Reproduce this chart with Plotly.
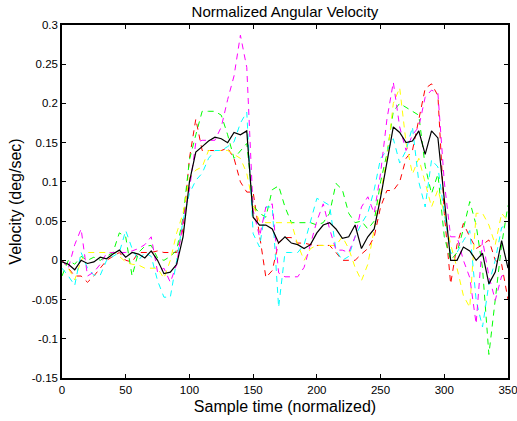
import plotly.graph_objects as go

# sample index (every 5 samples)
t = list(range(0, 355, 5))

mean_vel = [-0.002, -0.005, -0.012, 0.0, -0.004, -0.002, 0.004, 0.002, 0.008, 0.013,
            0.004, 0.01, 0.008, 0.003, 0.012, 0.0, -0.017, -0.015, -0.005, 0.03,
            0.1, 0.138, 0.145, 0.152, 0.157, 0.155, 0.15, 0.163, 0.16, 0.165,
            0.055, 0.045, 0.045, 0.04, 0.022, 0.03, 0.022, 0.02, 0.015, 0.02,
            0.035, 0.045, 0.048, 0.04, 0.028, 0.03, 0.045, 0.015, 0.03, 0.04,
            0.08, 0.125, 0.17, 0.163, 0.15, 0.152, 0.165, 0.135, 0.165, 0.156,
            0.08, 0.0, 0.0, 0.017, 0.012, 0.0, 0.009, -0.03, -0.015, 0.025, -0.01]

red_vel = [0.0, -0.01, -0.02, -0.02, -0.028, -0.02, -0.01, 0.0, 0.005, 0.01,
           0.0, -0.002, 0.01, 0.01, 0.01, 0.012, 0.01, 0.01, 0.01, 0.04,
           0.13, 0.18, 0.14, 0.14, 0.14, 0.14, 0.143, 0.13, 0.1, 0.087,
           0.087, 0.03, -0.022, -0.013, 0.023, 0.029, 0.029, 0.022, 0.022, 0.02,
           0.019, 0.019, 0.019, 0.01, 0.0, 0.0, 0.0, 0.008, 0.015, 0.03,
           0.068, 0.089, 0.089, 0.1, 0.13, 0.14, 0.18, 0.219, 0.225, 0.21,
           0.06, -0.03, 0.02, 0.047, 0.03, 0.015, 0.02, 0.026, 0.0, -0.005, -0.05]

green_vel = [-0.02, 0.0, -0.005, 0.005, 0.0, 0.004, 0.0, 0.005, 0.01, 0.035,
             0.03, -0.02, 0.01, 0.018, 0.019, 0.003, 0.0, 0.005, 0.013, 0.055,
             0.128, 0.16, 0.19, 0.19, 0.19, 0.185, 0.16, 0.13, 0.14, 0.149,
             0.07, 0.06, 0.055, 0.09, 0.095, 0.068, 0.048, 0.048, 0.048, 0.048,
             0.045, 0.048, 0.06, 0.098, 0.09, 0.06, 0.048, 0.05, 0.04, 0.05,
             0.1, 0.136, 0.19, 0.2, 0.195, 0.19, 0.185, 0.12, 0.085, 0.11,
             0.03, 0.0, 0.01, 0.04, 0.075, 0.045, -0.01, -0.12, -0.05, 0.02, 0.07]

yellow_vel = [0.0, -0.01, -0.025, 0.0, 0.01, 0.01, 0.01, 0.01, 0.01, 0.005,
              -0.002, -0.005, -0.006, -0.01, -0.01, -0.01, -0.023, 0.0, 0.035, 0.06,
              0.105, 0.115, 0.119, 0.14, 0.14, 0.14, 0.14, 0.135, 0.13, 0.111,
              0.07, 0.05, 0.048, 0.048, 0.048, 0.048, 0.048, 0.02, 0.0, 0.015,
              0.019, 0.019, 0.019, 0.019, 0.03, 0.015, -0.009, -0.026, -0.005, 0.04,
              0.08, 0.13, 0.2, 0.22, 0.15, 0.11, 0.13, 0.1, 0.068, 0.09,
              0.06, 0.02, -0.01, -0.045, -0.06, 0.06, 0.06, 0.045, 0.02, 0.06, 0.05]

cyan_vel = [-0.01, -0.02, -0.032, 0.01, -0.01, -0.019, -0.019, 0.0, 0.005, 0.01,
            0.038, 0.015, 0.0, 0.01, 0.005, -0.026, -0.047, -0.047, 0.0, 0.051,
            0.085, 0.102, 0.111, 0.13, 0.14, 0.14, 0.145, 0.151, 0.175, 0.189,
            0.034, 0.017, 0.068, 0.068, -0.06, 0.01, 0.01, 0.01, 0.02, 0.05,
            0.079, 0.075, 0.07, 0.013, 0.0, 0.005, 0.03, 0.047, 0.06, 0.09,
            0.13, 0.14, 0.155, 0.124, 0.14, 0.17, 0.1, 0.068, 0.128, 0.119,
            0.06, 0.009, 0.01, 0.025, 0.038, -0.051, -0.085, -0.03, 0.0, 0.042, 0.045]

magenta_vel = [0.0, -0.01, 0.02, 0.04, -0.02, -0.015, -0.005, 0.009, 0.01, 0.01,
               0.01, 0.012, 0.015, 0.02, 0.03, -0.015, -0.01, -0.028, -0.005, 0.05,
               0.09, 0.15, 0.153, 0.153, 0.153, 0.17, 0.205, 0.235, 0.287, 0.246,
               0.064, 0.03, 0.068, 0.072, -0.016, -0.021, -0.021, -0.021, -0.009, 0.02,
               0.05, 0.072, 0.04, 0.013, 0.013, 0.01, 0.03, 0.068, 0.081, 0.06,
               0.111, 0.18, 0.227, 0.17, 0.14, 0.16, 0.17, 0.208, 0.217, 0.213,
               0.1, 0.03, 0.03, 0.0, -0.022, -0.081, 0.026, -0.02, -0.051, -0.02, -0.017]

x_ticks = [0, 50, 100, 150, 200, 250, 300, 350]
y_ticks = [-0.15, -0.1, -0.05, 0, 0.05, 0.1, 0.15, 0.2, 0.25, 0.3]
y_labels = ['-0.15', '-0.1', '-0.05', '0', '0.05', '0.1', '0.15', '0.2', '0.25', '0.3']

font = 'Liberation Sans, Arial, sans-serif'

dashed = [
    (red_vel, '#FF0000'),
    (green_vel, '#00FF00'),
    (yellow_vel, '#FFFF00'),
    (cyan_vel, '#00FFFF'),
    (magenta_vel, '#FF00FF'),
]

fig = go.Figure()
for vals, col in dashed:
    fig.add_trace(go.Scatter(x=t, y=vals, mode='lines',
                             line=dict(color=col, width=1, dash='6px,5px'),
                             showlegend=False))

fig.add_trace(go.Scatter(x=t, y=mean_vel, mode='lines',
                         line=dict(color='black', width=1.2),
                         showlegend=False))

axis_style = dict(showline=True, linecolor='black', linewidth=1.5, mirror='ticks',
                  ticks='inside', ticklen=4, tickcolor='black', showgrid=False,
                  zeroline=False, automargin=False, ticklabeloverflow='allow',
                  tickfont=dict(size=11.5, color='black', family=font))

fig.update_layout(
    width=517, height=421,
    margin=dict(l=62, r=9, t=25, b=43),
    paper_bgcolor='white', plot_bgcolor='white',
    title=dict(text='Normalized Angular Velocity', x=0.5, xref='paper',
               xanchor='center', y=1 - 12 / 421, yanchor='middle',
               font=dict(size=15, color='black', family=font)),
    xaxis=dict(range=[0, 350], tickvals=x_ticks,
               title=dict(text='Sample time (normalized)', standoff=6,
                          font=dict(size=16, color='black', family=font)),
               **axis_style),
    yaxis=dict(range=[-0.15, 0.3], tickvals=y_ticks, ticktext=y_labels,
               title=dict(text='Velocity (deg/sec)', standoff=6,
                          font=dict(size=16, color='black', family=font)),
               **axis_style),
)

# drop the default page margin so the figure fills the window
fig.write_html("out.html", config={'displayModeBar': False},
               post_script="document.body.style.margin='0';document.body.style.overflow='hidden';")
